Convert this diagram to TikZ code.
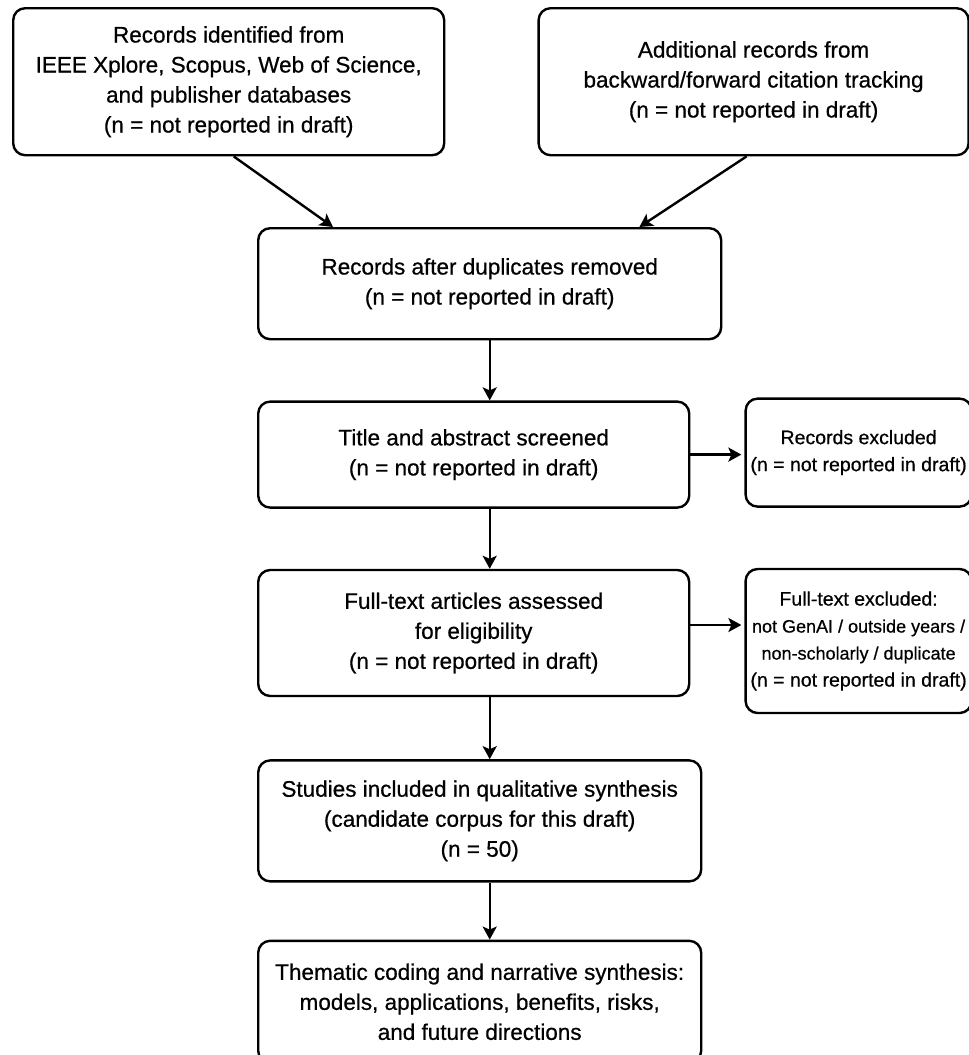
\documentclass[tikz,border=0pt]{standalone}
\usepackage{fontspec}
\setmainfont{Liberation Sans}[FakeBold=0.6]
\usetikzlibrary{arrows.meta, positioning}

\newcommand{\smalltxt}{\fontsize{18}{27}\selectfont}

\begin{document}
\begin{tikzpicture}[
  x=1pt, y=-1pt,
  box/.style={rectangle, rounded corners=12pt, draw, line width=2.4pt, fill=white,
              align=center, font=\fontsize{22.5}{30}\selectfont,
              minimum width=431pt, inner sep=4pt},
  side/.style={box, font=\fontsize{19.5}{27}\selectfont, minimum width=226pt, inner sep=0pt},
  arrow/.style={-{Stealth[length=13pt, width=14pt, inset=3pt]}, line width=2.4pt}
]
\useasboundingbox (0,0) rectangle (969,1055);

\node[box, minimum height=147pt, anchor=north west] (ident) at (12,7)
  {Records identified from\\IEEE Xplore, Scopus, Web of Science,\\and publisher databases\\(n = not reported in draft)};
\node[box, minimum width=430pt, minimum height=147pt, right=92pt of ident] (cites)
  {Additional records from\\backward/forward citation tracking\\(n = not reported in draft)};
\node[box, minimum width=463pt, minimum height=111pt, anchor=north west] (dedup) at (257,227)
  {Records after duplicates removed\\(n = not reported in draft)};
\node[box, minimum height=106pt, below=60pt of dedup.south west, anchor=north west] (screen)
  {Title and abstract screened\\(n = not reported in draft)};
\node[side, minimum height=108pt, right=54pt of screen.north east, anchor=north west, yshift=3pt] (excl)
  {Records excluded\\(n = not reported in draft)};
\node[box, minimum height=126pt, below=60pt of screen.south west, anchor=north west] (full)
  {Full-text articles assessed\\for eligibility\\(n = not reported in draft)};
\node[side, minimum height=144pt, right=54pt of full.north east, anchor=north west, yshift=1pt] (ftexcl)
  {Full-text excluded:\\{\smalltxt not GenAI / outside years /}\\{\smalltxt non-scholarly / duplicate}\\(n = not reported in draft)};
\node[box, minimum width=443pt, minimum height=121pt, below=62pt of full.south west, anchor=north west] (incl)
  {Studies included in qualitative synthesis\\(candidate corpus for this draft)\\(n = 50)};
\node[box, minimum width=443pt, minimum height=122pt, below=57pt of incl.south west, anchor=north west] (theme)
  {Thematic coding and narrative synthesis:\\models, applications, benefits, risks,\\and future directions};

% identification -> screening
\draw[arrow] ([xshift=5pt]ident.south) -- ([xshift=76pt]dedup.north west);
\draw[arrow] ([xshift=-7pt]cites.south) -- ([xshift=-83pt]dedup.north east);
\draw[arrow] (dedup.south) -- (dedup.south |- screen.north);
\draw[arrow] (dedup.south |- screen.south) -- (dedup.south |- full.north);
\draw[arrow] (dedup.south |- full.south) -- (dedup.south |- incl.north);
\draw[arrow] (dedup.south |- incl.south) -- (dedup.south |- theme.north);
% exclusions
\draw[arrow, shorten >=3pt] (screen.east) -- (screen.east -| excl.west);
\draw[arrow, shorten >=3pt] ([yshift=8pt]full.east) -- ([yshift=8pt]full.east -| ftexcl.west);

\end{tikzpicture}
\end{document}
